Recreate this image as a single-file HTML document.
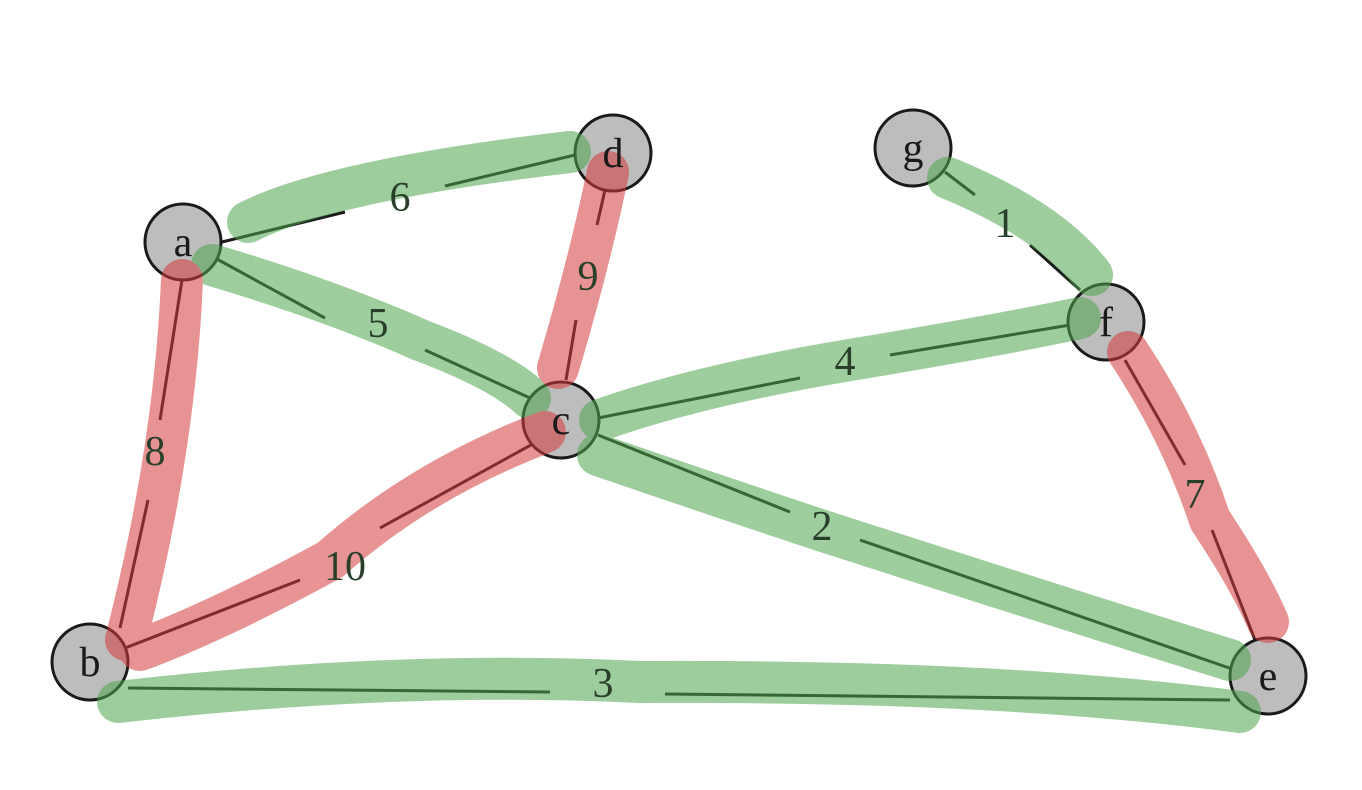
<!DOCTYPE html>
<html><head><meta charset="utf-8"><style>html,body{margin:0;padding:0;background:#fff;}svg{display:block}</style></head>
<body>
<svg width="1362" height="790" viewBox="0 0 1362 790" xmlns="http://www.w3.org/2000/svg">
<g stroke="#1a1a1a" stroke-width="3" fill="none">
<line x1="222" y1="242" x2="345" y2="212"/><line x1="445" y1="186" x2="575" y2="155"/>
<line x1="215" y1="258" x2="325" y2="318"/><line x1="425" y1="350" x2="530" y2="398"/>
<line x1="605" y1="190" x2="597" y2="225"/><line x1="576" y1="320" x2="566" y2="380"/>
<line x1="182" y1="280" x2="160" y2="420"/><line x1="148" y1="500" x2="120" y2="628"/>
<line x1="540" y1="440" x2="380" y2="528"/><line x1="300" y1="580" x2="120" y2="650"/>
<line x1="598" y1="418" x2="800" y2="378"/><line x1="890" y1="355" x2="1070" y2="325"/>
<line x1="598" y1="435" x2="790" y2="512"/><line x1="860" y1="540" x2="1235" y2="670"/>
<line x1="128" y1="688" x2="550" y2="692"/><line x1="665" y1="694" x2="1230" y2="700"/>
<line x1="1125" y1="360" x2="1185" y2="465"/><line x1="1212" y1="530" x2="1255" y2="640"/>
<line x1="945" y1="172" x2="975" y2="195"/><line x1="1030" y1="245" x2="1080" y2="290"/>
</g>
<g fill="#bdbdbd" stroke="#1a1a1a" stroke-width="3">
<circle cx="183" cy="242" r="38"/><circle cx="613" cy="153" r="38"/><circle cx="913" cy="148" r="38"/>
<circle cx="1106" cy="322" r="38"/><circle cx="561" cy="420" r="38"/><circle cx="90" cy="662" r="38"/><circle cx="1268" cy="676" r="38"/>
</g>
<g fill="none" stroke-linecap="round" stroke-linejoin="round" stroke-width="42" opacity="0.55">
<path d="M248 222 Q330 180 570 152" stroke="#4ea54e"/>
<path d="M212 265 Q330 300 420 340 Q500 370 530 398" stroke="#4ea54e"/>
<path d="M600 420 Q700 385 850 360 Q1000 335 1080 318" stroke="#4ea54e"/>
<path d="M598 455 Q700 490 820 530 Q1100 620 1230 660" stroke="#4ea54e"/>
<path d="M118 702 Q400 670 640 682 Q1000 680 1240 712" stroke="#4ea54e"/>
<path d="M948 178 Q1050 220 1092 275" stroke="#4ea54e"/>
<path d="M608 172 Q590 260 558 368" stroke="#d63c3c"/>
<path d="M182 280 Q175 450 126 640" stroke="#d63c3c"/>
<path d="M545 432 Q420 480 330 560 Q220 620 140 650" stroke="#d63c3c"/>
<path d="M1128 352 Q1180 430 1210 520 Q1250 580 1268 622" stroke="#d63c3c"/>
</g>
<g font-family="Liberation Serif, serif" font-size="42" fill="#1a1a1a" text-anchor="middle">
<text x="183" y="256">a</text><text x="613" y="167">d</text><text x="913" y="162">g</text>
<text x="1106" y="336">f</text><text x="561" y="434">c</text><text x="90" y="676">b</text><text x="1268" y="690">e</text>
</g>
<g font-family="Liberation Serif, serif" font-size="42" fill="#2a3f2a" text-anchor="middle">
<text x="400" y="211">6</text><text x="378" y="337">5</text><text x="588" y="290">9</text>
<text x="155" y="465">8</text><text x="345" y="580">10</text><text x="845" y="375">4</text>
<text x="822" y="540">2</text><text x="603" y="697">3</text><text x="1195" y="508">7</text><text x="1005" y="237">1</text>
</g>
</svg>
</body></html>
